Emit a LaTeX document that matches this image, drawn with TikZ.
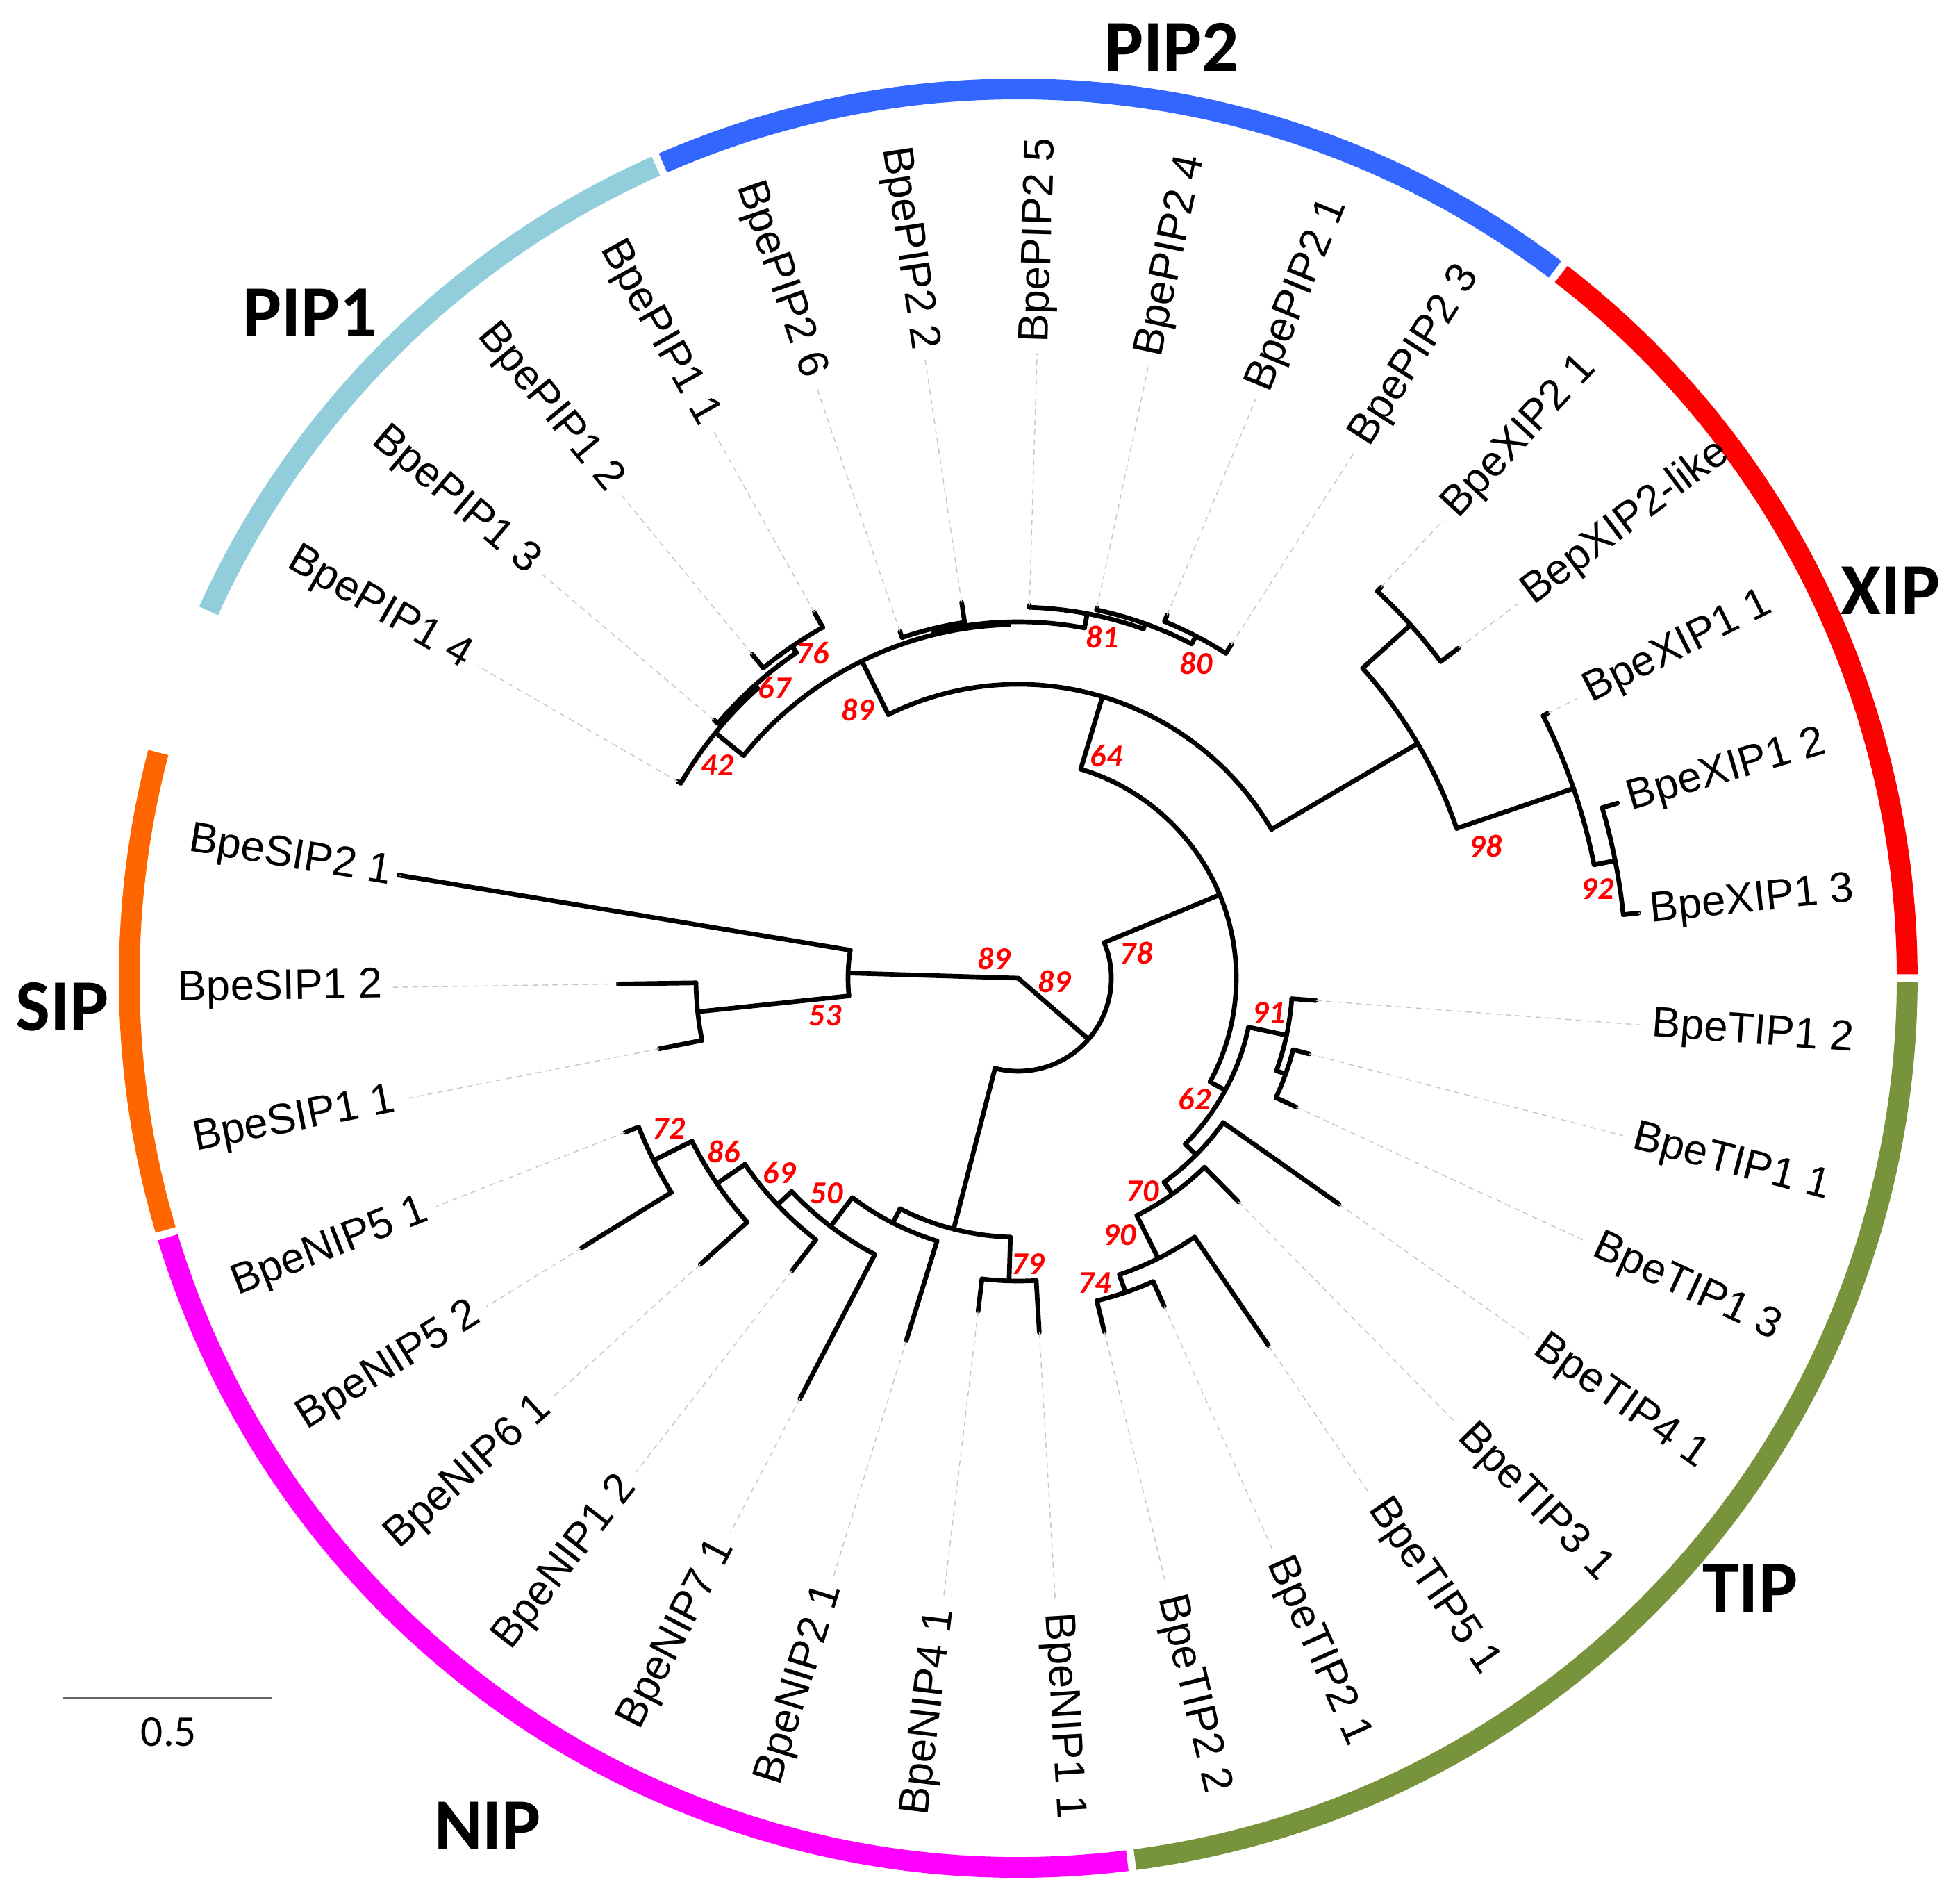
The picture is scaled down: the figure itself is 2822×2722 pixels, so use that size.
\documentclass[tikz,border=0pt]{standalone}
\usepackage{fontspec}
\setmainfont{Liberation Sans}
\newfontfamily\calibri{Carlito}
\definecolor{pipone}{HTML}{92CDDC}
\definecolor{piptwo}{HTML}{3366FF}
\definecolor{xipred}{HTML}{FF0000}
\definecolor{tipgreen}{HTML}{77933C}
\definecolor{nipmag}{HTML}{FF00FF}
\definecolor{siporange}{HTML}{FF6600}

% clade arc at radius #3 from angle #1 to angle #2
\def\cladearc(#1:#2:#3){\draw (#1:#3) arc (#1:#2:#3);}
% radial branch at angle #1 from radius #2 to radius #3
\def\stemline(#1:#2:#3){\draw (#1:#2) -- (#1:#3);}
% leaf: branch, guide line and label (right half / left half)
\def\leafr(#1:#2:#3)#4#5{\draw (#1:#2) -- (#1:#3);
  \draw[guide] (#1:#3) -- (#1:900);
  \node[leaflab, anchor=west, rotate=#1] (#4) at (#1:912) {#5};}
\def\leafl(#1:#2:#3)#4#5{\draw (#1:#2) -- (#1:#3);
  \draw[guide] (#1:#3) -- (#1:900);
  \node[leaflab, anchor=east, rotate=#1-180] (#4) at (#1:912) {#5};}
% coloured band of the outer ring
\def\ringband[#1](#2:#3){\draw[#1, line width=8.5pt] (#2:1280) arc (#2:#3:1280);}

\begin{document}
\begin{tikzpicture}[x=0.01cm, y=0.01cm,
    guide/.style={gray!45, line width=0.4pt, line cap=butt, dash pattern=on 2.3pt off 1.8pt},
    leaflab/.style={inner sep=0pt, font=\fontsize{17.5}{21}\selectfont},
    boot/.style={inner sep=0pt, text=red, font=\calibri\bfseries\itshape\fontsize{13}{15}\selectfont},
    grp/.style={inner sep=0pt, font=\calibri\bfseries\fontsize{30}{36}\selectfont}]
\useasboundingbox (-1466,-1314) rectangle (1356,1408);

% outer ring
\ringband[xipred](0.25:52.35)
\ringband[piptwo](52.85:113.55)
\ringband[pipone](114.05:155.6)
\ringband[siporange](165.3:196.45)
\ringband[nipmag](196.95:277.05)
\ringband[tipgreen](277.55:359.75)

\node[grp] (gpip2) at (221,1340) {PIP2};
\node[grp] (gpip1) at (-1020,958) {PIP1};
\node[grp] (gxip) at (1256,558) {XIP};
\node[grp] (gsip) at (-1376,-41) {SIP};
\node[grp] (gtip) at (1054,-878) {TIP};
\node[grp] (gnip) at (-764,-1220) {NIP};

\begin{scope}[line width=1.9pt, line cap=round]
% root
\draw (0,0) -- (178.27:245);
\draw (0,0) -- (-40.99:134);
\cladearc(22.46:-104.43:134)

% SIP
\cladearc(170.56:185.99:245)
\leafl(170.56:245:904){sip21}{BpeSIP2 1}
\stemline(185.99:245:464)
\cladearc(180.84:191.13:464)
\leafl(180.84:464:576){sip12}{BpeSIP1 2}
\leafl(191.13:464:527){sip11}{BpeSIP1 1}

% 78 and 64
\stemline(22.46:134:314)
\cladearc(73.33:-28.41:314)
\stemline(73.33:314:423)
\cladearc(116.24:30.42:423)

% PIP
\stemline(116.24:423:509)
\cladearc(140.99:91.49:509)
\stemline(140.99:509:561)
\cladearc(149.99:131.99:561)
\leafl(149.99:561:566){pip14}{BpePIP1 4}
\stemline(131.99:561:567)
\cladearc(139.70:124.27:567)
\leafl(139.70:567:574){pip13}{BpePIP1 3}
\stemline(124.27:567:578)
\cladearc(129.41:119.13:578)
\leafl(129.41:578:603){pip12}{BpePIP1 2}
\leafl(119.13:578:603){pip11}{BpePIP1 1}

\stemline(91.49:509:513)
\cladearc(103.70:79.27:513)
\stemline(103.70:513:518)
\cladearc(108.84:98.56:518)
\leafl(108.84:518:527){pip26}{BpePIP2 6}
\leafl(98.56:518:547){pip22}{BpePIP2 2}
\stemline(79.27:513:534)
\cladearc(88.27:70.27:534)
\leafr(88.27:534:537){pip25}{BpePIP2 5}
\stemline(70.27:534:542)
\cladearc(77.99:62.56:542)
\leafr(77.99:542:545){pip24}{BpePIP2 4}
\stemline(62.56:542:555)
\cladearc(67.70:57.41:555)
\leafr(67.70:555:565){pip21}{BpePIP2 1}
\leafr(57.41:555:570){pip23}{BpePIP2 3}

% XIP
\stemline(30.42:423:667)
\cladearc(41.99:18.85:667)
\stemline(41.99:667:760)
\cladearc(47.13:36.84:760)
\leafr(47.13:760:768){xip21}{BpeXIP2 1}
\leafr(36.84:760:792){xip2l}{BepXIP2-like}
\stemline(18.85:667:845)
\cladearc(26.56:11.13:845)
\leafr(26.56:845:852){xip11}{BpeXIP1 1}
\stemline(11.13:845:876)
\cladearc(16.27:5.99:876)
\leafr(16.27:876:899){xip12}{BpeXIP1 2}
\leafr(5.99:876:898){xip13}{BpeXIP1 3}

% TIP
\stemline(-28.41:314:339)
\cladearc(-12.01:-44.80:339)
\stemline(-12.01:339:395)
\cladearc(-4.30:-19.73:395)
\leafr(-4.30:395:430){tip12}{BpeTIP1 2}
\stemline(-19.73:395:409)
\cladearc(-14.59:-24.87:409)
\leafr(-14.59:409:433){tip11}{BpeTIP1 1}
\leafr(-24.87:409:441){tip13}{BpeTIP1 3}
\stemline(-44.80:339:361)
\cladearc(-35.16:-54.44:361)
\leafr(-35.16:361:565){tip41}{BpeTIP4 1}
\stemline(-54.44:361:382)
\cladearc(-45.44:-63.44:382)
\leafr(-45.44:382:452){tip31}{BpeTIP3 1}
\stemline(-63.44:382:451)
\cladearc(-55.73:-71.15:451)
\leafr(-55.73:451:640){tip51}{BpeTIP5 1}
\stemline(-71.15:451:478)
\cladearc(-66.01:-76.30:478)
\leafr(-66.01:478:517){tip21}{BpeTIP2 1}
\leafr(-76.30:478:524){tip22}{BpeTIP2 2}

% NIP
\stemline(-104.43:134:373)
\cladearc(-91.73:-117.12:373)
\stemline(-91.73:373:436)
\cladearc(-86.59:-96.87:436)
\leafr(-86.59:436:511){nip11}{BpeNIP1 1}
\leafl(-96.87:436:483){nip41}{BpeNIP4 1}
\stemline(-117.12:373:396)
\cladearc(-107.16:-127.09:396)
\leafl(-107.16:396:546){nip21}{BpeNIP2 1}
\stemline(-127.09:396:448)
\cladearc(-117.44:-136.73:448)
\leafl(-117.44:448:682){nip71}{BpeNIP7 1}
\stemline(-136.73:448:476)
\cladearc(-127.73:-145.73:476)
\leafl(-127.73:476:533){nip12}{BpeNIP1 2}
\stemline(-145.73:476:525)
\cladearc(-138.01:-153.44:525)
\leafl(-138.01:525:616){nip61}{BpeNIP6 1}
\stemline(-153.44:525:587)
\cladearc(-148.30:-158.59:587)
\leafl(-148.30:587:739){nip52}{BpeNIP5 2}
\leafl(-158.59:587:608){nip51}{BpeNIP5 1}
\end{scope}

% bootstrap values
\node[boot] (b76) at (-296,468) {76};
\node[boot] (b67) at (-351,418) {67};
\node[boot] (b42) at (-433,306) {42};
\node[boot] (b89p) at (-231,386) {89};
\node[boot] (b81) at (121,491) {81};
\node[boot] (b80) at (256,453) {80};
\node[boot] (b64) at (127,320) {64};
\node[boot] (b98) at (673,190) {98};
\node[boot] (b92) at (834,128) {92};
\node[boot] (b78) at (170,36) {78};
\node[boot] (b89s) at (-35,28) {89};
\node[boot] (b89q) at (52,-5) {89};
\node[boot] (b53) at (-278,-54) {53};
\node[boot] (b91) at (361,-50) {91};
\node[boot] (b62) at (254,-174) {62};
\node[boot] (b70) at (179,-307) {70};
\node[boot] (b90) at (146,-370) {90};
\node[boot] (b74) at (110,-439) {74};
\node[boot] (b79) at (14,-412) {79};
\node[boot] (b72) at (-503,-217) {72};
\node[boot] (b86) at (-424,-250) {86};
\node[boot] (b69) at (-344,-280) {69};
\node[boot] (b50) at (-276,-310) {50};

% scale bar
\coordinate (sbl) at (-1376,-1036);
\coordinate (sbr) at (-1074,-1036);
\draw[gray!80!black, line width=0.6pt] (sbl) -- (sbr);
\node[inner sep=0pt, font=\calibri\fontsize{18}{22}\selectfont] (sbtext) at (-1223,-1085) {0.5};
\end{tikzpicture}
\end{document}
